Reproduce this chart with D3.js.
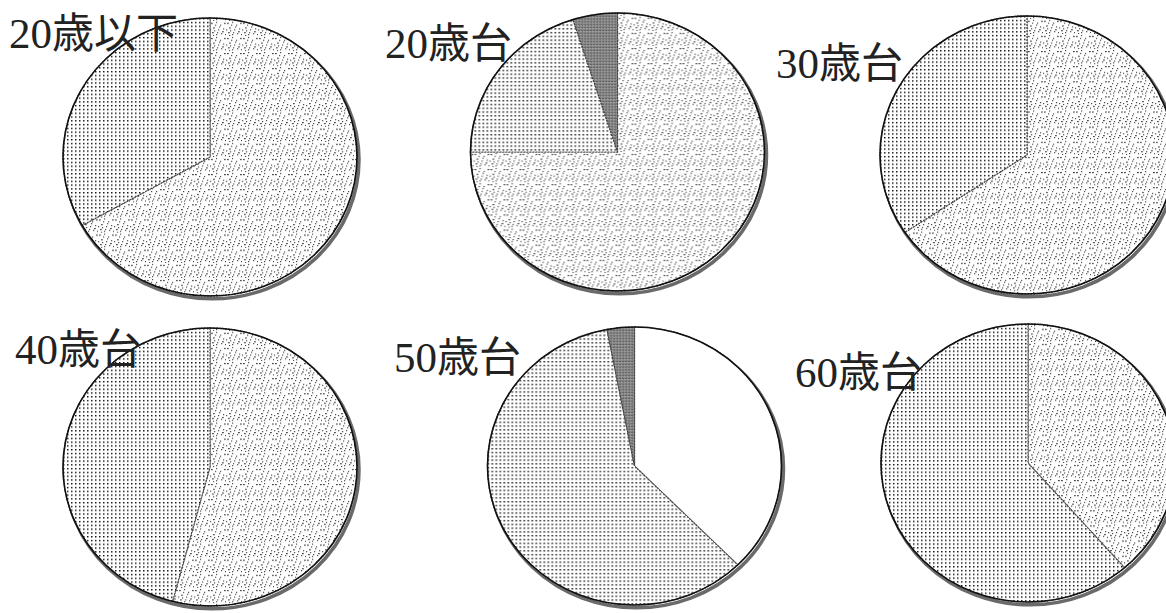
<!DOCTYPE html>
<html><head><meta charset="utf-8">
<script src="https://cdn.jsdelivr.net/npm/d3@7"></script>
<style>html,body{margin:0;padding:0;background:#fff;}svg{display:block;}</style>
</head><body>
<svg id="chart" width="1166" height="613"></svg>
<script>
// ---- data ----
const groups = ["20歳以下", "20歳台", "30歳台", "40歳台", "50歳台", "60歳台"];
const categories = ["区分1", "区分2", "区分3", "区分4"];
const cat1 = [66.8, 75.0, 65.6, 54.1, 0, 38.6];   // speckled
const cat2 = [0, 0, 0, 0, 37.6, 0];               // white
const cat3 = [33.2, 20.1, 34.4, 45.9, 59.4, 61.4];// dotted
const cat4 = [0, 4.9, 0, 0, 3.0, 0];              // dark grey

// ---- layout ----
const svg = d3.select("#chart");
const colX = d3.scalePoint().domain([0,1,2]).range([210, 1027]);
const rowY = d3.scalePoint().domain([0,1]).range([155, 466]);
const centerNudge = [[0,2],[-1,-3],[0,0],[0,1],[16,0],[1,-3]];
const rx = 147, ry = 139;

const defs = svg.append("defs");
// dotted pattern
const pDot = defs.append("pattern").attr("id","pDot").attr("patternUnits","userSpaceOnUse")
  .attr("width",4).attr("height",4);
pDot.append("rect").attr("width",4).attr("height",4).attr("fill","#fff");
pDot.append("rect").attr("x",1).attr("y",1).attr("width",1.5).attr("height",1.5).attr("fill","#111");
// speckled pattern
const speck = [[1,2],[6,1],[10,4],[3,7],[8,9],[13,8],[2,12],[11,13],[6,14],[14,2],[5,4],[9,6],
               [12,11],[0,9],[4,10],[15,14],[7,12],[3,15]];
const pSp = defs.append("pattern").attr("id","pSpeck").attr("patternUnits","userSpaceOnUse")
  .attr("width",16).attr("height",16);
pSp.append("rect").attr("width",16).attr("height",16).attr("fill","#fff");
speck.forEach(([x,y],i)=>pSp.append("rect").attr("x",x).attr("y",y)
  .attr("width", i%3===0?1.8:1.2).attr("height",1.2).attr("fill","#444"));
// dark pattern
const pDk = defs.append("pattern").attr("id","pDark").attr("patternUnits","userSpaceOnUse")
  .attr("width",3).attr("height",3);
pDk.append("rect").attr("width",3).attr("height",3).attr("fill","#858585");
pDk.append("rect").attr("x",0).attr("y",0).attr("width",1).attr("height",1).attr("fill","#3a3a3a");
pDk.append("rect").attr("x",2).attr("y",1).attr("width",1).attr("height",1).attr("fill","#bbb");

const fills = d3.scaleOrdinal().domain(categories)
  .range(["url(#pSpeck)", "#ffffff", "url(#pDot)", "url(#pDark)"]);

const pie = d3.pie().sort(null).value(d => d.value);
const arc = d3.arc().innerRadius(0).outerRadius(rx);

groups.forEach((g, i) => {
  const data = categories.map((c, k) => ({cat: c, value: [cat1, cat2, cat3, cat4][k][i]}));
  const cx = colX(i % 3) + centerNudge[i][0];
  const cy = rowY(Math.floor(i / 3)) + centerNudge[i][1];
  const gp = svg.append("g").attr("transform", `translate(${cx},${cy}) scale(1,${ry/rx})`);
  gp.append("circle").attr("cx",2).attr("cy",3).attr("r",rx)
    .attr("fill","none").attr("stroke","#6a6a6a").attr("stroke-width",3.5)
    .attr("vector-effect","non-scaling-stroke");
  gp.selectAll("path.slice").data(pie(data).filter(d => d.data.value > 0)).join("path")
    .attr("class","slice")
    .attr("d", arc)
    .attr("fill", d => fills(d.data.cat))
    .attr("stroke", "#444").attr("stroke-width", 1.2).attr("stroke-dasharray","2,1")
    .attr("vector-effect","non-scaling-stroke");
  gp.append("circle").attr("r",rx).attr("fill","none")
    .attr("stroke","#111").attr("stroke-width",1.6)
    .attr("vector-effect","non-scaling-stroke");
});

// labels: digits in serif, kanji in CJK font
const labelPos = [[9,48],[385,58],[776,78],[15,364],[394,372],[795,387]];
const lbl = svg.selectAll("text.lbl").data(groups).join("text").attr("class","lbl")
  .attr("x", (d,i) => labelPos[i][0]).attr("y", (d,i) => labelPos[i][1])
  .attr("font-size", 43).attr("fill", "#222");
lbl.append("tspan").attr("font-family", "'Liberation Serif', 'DejaVu Serif', serif")
  .text(d => d.match(/^\d+/)[0]);
lbl.append("tspan").attr("font-family", "'Noto Sans CJK JP', sans-serif")
  .attr("font-size", 42)
  .text(d => d.replace(/^\d+/, ""));
</script>
</body></html>
